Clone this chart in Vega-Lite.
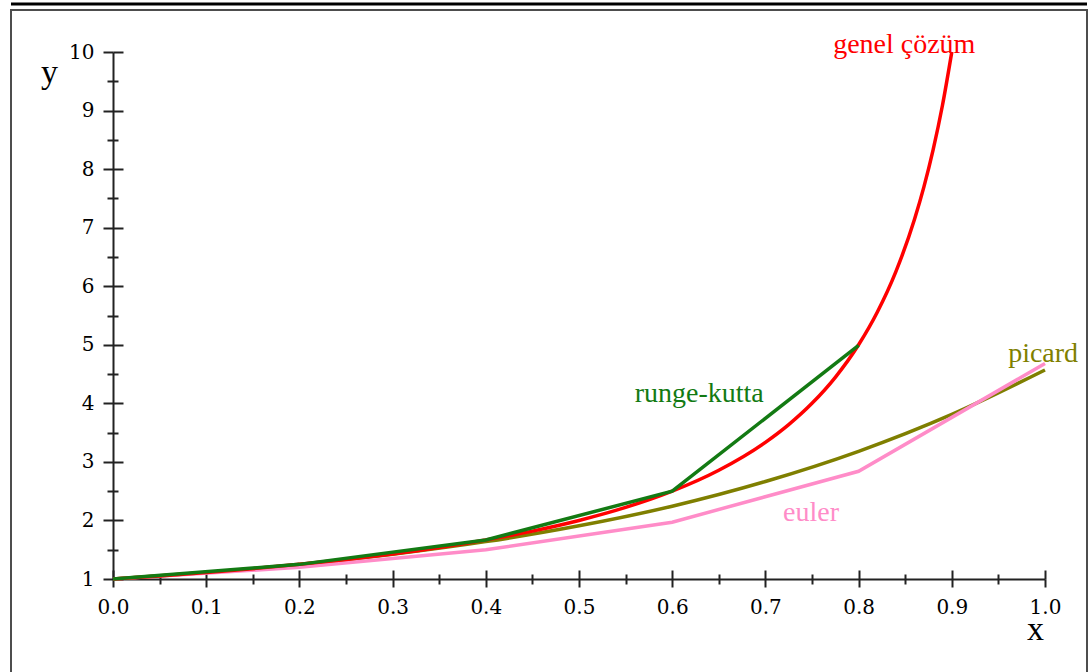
{
  "$schema": "https://vega.github.io/schema/vega-lite/v6.json",
  "width": 1076,
  "height": 670,
  "autosize": {"type": "none"},
  "padding": {"left": 11, "top": 10, "right": 5, "bottom": 0},
  "background": "white",
  "config": {
    "view": {"stroke": "#4d4d4d", "strokeWidth": 2},
    "font": "Liberation Serif",
    "axis": {"grid": false, "tickWidth": 2, "tickColor": "#222", "domainColor": "#222", "domainWidth": 2}
  },
  "resolve": {"axis": {"x": "independent", "y": "independent"}},
  "datasets": {
    "egriler": [
      {"yontem": "genel çözüm", "x": 0, "y": 1},
      {"yontem": "genel çözüm", "x": 0.05, "y": 1.0526},
      {"yontem": "genel çözüm", "x": 0.1, "y": 1.1111},
      {"yontem": "genel çözüm", "x": 0.15, "y": 1.1765},
      {"yontem": "genel çözüm", "x": 0.2, "y": 1.25},
      {"yontem": "genel çözüm", "x": 0.25, "y": 1.3333},
      {"yontem": "genel çözüm", "x": 0.3, "y": 1.4286},
      {"yontem": "genel çözüm", "x": 0.35, "y": 1.5385},
      {"yontem": "genel çözüm", "x": 0.4, "y": 1.6667},
      {"yontem": "genel çözüm", "x": 0.45, "y": 1.8182},
      {"yontem": "genel çözüm", "x": 0.5, "y": 2},
      {"yontem": "genel çözüm", "x": 0.55, "y": 2.2222},
      {"yontem": "genel çözüm", "x": 0.6, "y": 2.5},
      {"yontem": "genel çözüm", "x": 0.65, "y": 2.8571},
      {"yontem": "genel çözüm", "x": 0.7, "y": 3.3333},
      {"yontem": "genel çözüm", "x": 0.725, "y": 3.6364},
      {"yontem": "genel çözüm", "x": 0.75, "y": 4},
      {"yontem": "genel çözüm", "x": 0.775, "y": 4.4444},
      {"yontem": "genel çözüm", "x": 0.8, "y": 5},
      {"yontem": "genel çözüm", "x": 0.82, "y": 5.5556},
      {"yontem": "genel çözüm", "x": 0.84, "y": 6.25},
      {"yontem": "genel çözüm", "x": 0.86, "y": 7.1429},
      {"yontem": "genel çözüm", "x": 0.87, "y": 7.6923},
      {"yontem": "genel çözüm", "x": 0.88, "y": 8.3333},
      {"yontem": "genel çözüm", "x": 0.89, "y": 9.0909},
      {"yontem": "genel çözüm", "x": 0.9, "y": 10},
      {"yontem": "runge-kutta", "x": 0, "y": 1},
      {"yontem": "runge-kutta", "x": 0.2, "y": 1.25},
      {"yontem": "runge-kutta", "x": 0.4, "y": 1.667},
      {"yontem": "runge-kutta", "x": 0.6, "y": 2.5},
      {"yontem": "runge-kutta", "x": 0.8, "y": 4.99},
      {"yontem": "euler", "x": 0, "y": 1},
      {"yontem": "euler", "x": 0.2, "y": 1.2},
      {"yontem": "euler", "x": 0.4, "y": 1.5},
      {"yontem": "euler", "x": 0.6, "y": 1.97},
      {"yontem": "euler", "x": 0.8, "y": 2.84},
      {"yontem": "euler", "x": 1.0, "y": 4.68},
      {"yontem": "picard", "x": 0, "y": 1},
      {"yontem": "picard", "x": 0.1, "y": 1.111},
      {"yontem": "picard", "x": 0.2, "y": 1.249},
      {"yontem": "picard", "x": 0.3, "y": 1.423},
      {"yontem": "picard", "x": 0.4, "y": 1.638},
      {"yontem": "picard", "x": 0.5, "y": 1.908},
      {"yontem": "picard", "x": 0.6, "y": 2.243},
      {"yontem": "picard", "x": 0.7, "y": 2.665},
      {"yontem": "picard", "x": 0.8, "y": 3.18},
      {"yontem": "picard", "x": 0.9, "y": 3.81},
      {"yontem": "picard", "x": 1.0, "y": 4.57}
    ],
    "etiketler": [
      {"yontem": "genel çözüm", "x": 0.849, "y": 9.98},
      {"yontem": "runge-kutta", "x": 0.629, "y": 4.03},
      {"yontem": "picard", "x": 0.998, "y": 4.71},
      {"yontem": "euler", "x": 0.749, "y": 1.99}
    ]
  },
  "layer": [
    {
      "data": {"name": "egriler"},
      "transform": [{"filter": "datum.yontem === 'picard'"}],
      "mark": {"type": "line", "strokeWidth": 3.5, "interpolate": "monotone"},
      "encoding": {
        "x": {
          "field": "x", "type": "quantitative",
          "scale": {"domain": [0, 1], "range": [102, 1034], "nice": false, "zero": false},
          "axis": {
            "orient": "bottom", "offset": -101,
            "values": [0, 0.1, 0.2, 0.3, 0.4, 0.5, 0.6, 0.7, 0.8, 0.9, 1],
            "format": ".1f",
            "labelFont": "DejaVu Serif", "labelFontSize": 20, "labelColor": "#000", "labelPadding": 10,
            "labelFlush": false, "labelOverlap": false,
            "tickSize": 8,
            "title": "x", "titleFont": "Liberation Serif", "titleFontSize": 34, "titleFontWeight": "normal",
            "titleColor": "#000", "titleX": 1024, "titleY": 60, "titleAlign": "center", "titleBaseline": "alphabetic"
          }
        },
        "y": {
          "field": "y", "type": "quantitative",
          "scale": {"domain": [1, 10], "range": [569, 42], "nice": false, "zero": false},
          "axis": {
            "orient": "left", "offset": -102,
            "values": [1, 2, 3, 4, 5, 6, 7, 8, 9, 10],
            "format": "d",
            "labelFont": "DejaVu Serif", "labelFontSize": 20, "labelColor": "#000", "labelPadding": 9,
            "labelFlush": false, "labelOverlap": false,
            "tickSize": 10,
            "title": "y", "titleFont": "Liberation Serif", "titleFontSize": 34, "titleFontWeight": "normal",
            "titleColor": "#000", "titleAngle": 0, "titleX": -64, "titleY": 72, "titleAlign": "center", "titleBaseline": "alphabetic"
          }
        },
        "color": {
          "field": "yontem", "type": "nominal",
          "scale": {"domain": ["genel çözüm", "runge-kutta", "picard", "euler"], "range": ["#ff0000", "#137a13", "#7f7f00", "#ff8cc8"]},
          "legend": null
        }
      }
    },
    {
      "data": {"name": "egriler"},
      "transform": [{"filter": "datum.yontem === 'euler'"}],
      "mark": {"type": "line", "strokeWidth": 3.5},
      "encoding": {
        "x": {"field": "x", "type": "quantitative",
          "axis": {"orient": "bottom", "offset": -101, "values": [0.05, 0.15, 0.25, 0.35, 0.45, 0.55, 0.65, 0.75, 0.85, 0.95],
            "labels": false, "domain": false, "tickSize": 5, "title": null}},
        "y": {"field": "y", "type": "quantitative",
          "axis": {"orient": "left", "offset": -102, "values": [1.5, 2.5, 3.5, 4.5, 5.5, 6.5, 7.5, 8.5, 9.5],
            "labels": false, "domain": false, "tickSize": 6, "title": null}},
        "color": {"field": "yontem", "type": "nominal", "legend": null}
      }
    },
    {
      "data": {"name": "egriler"},
      "transform": [{"filter": "datum.yontem === 'genel çözüm'"}],
      "mark": {"type": "line", "strokeWidth": 3.5, "interpolate": "monotone"},
      "encoding": {
        "x": {"field": "x", "type": "quantitative",
          "axis": {"orient": "bottom", "offset": -101, "values": [0, 0.1, 0.2, 0.3, 0.4, 0.5, 0.6, 0.7, 0.8, 0.9, 1],
            "labels": false, "domain": false, "tickSize": -9, "title": null}},
        "y": {"field": "y", "type": "quantitative",
          "axis": {"orient": "left", "offset": -102, "values": [1, 2, 3, 4, 5, 6, 7, 8, 9, 10],
            "labels": false, "domain": false, "tickSize": -10, "title": null}},
        "color": {"field": "yontem", "type": "nominal", "legend": null}
      }
    },
    {
      "data": {"name": "egriler"},
      "transform": [{"filter": "datum.yontem === 'runge-kutta'"}],
      "mark": {"type": "line", "strokeWidth": 3.5},
      "encoding": {
        "x": {"field": "x", "type": "quantitative",
          "axis": {"orient": "bottom", "offset": -101, "values": [0.05, 0.15, 0.25, 0.35, 0.45, 0.55, 0.65, 0.75, 0.85, 0.95],
            "labels": false, "domain": false, "tickSize": -5, "title": null}},
        "y": {"field": "y", "type": "quantitative",
          "axis": {"orient": "left", "offset": -102, "values": [1.5, 2.5, 3.5, 4.5, 5.5, 6.5, 7.5, 8.5, 9.5],
            "labels": false, "domain": false, "tickSize": -5, "title": null}},
        "color": {"field": "yontem", "type": "nominal", "legend": null}
      }
    },
    {
      "data": {"name": "etiketler"},
      "mark": {"type": "text", "font": "Liberation Serif", "fontSize": 28, "align": "center", "baseline": "alphabetic"},
      "encoding": {
        "x": {"field": "x", "type": "quantitative", "axis": null},
        "y": {"field": "y", "type": "quantitative", "axis": null},
        "text": {"field": "yontem"},
        "color": {"field": "yontem", "type": "nominal", "legend": null}
      }
    },
    {
      "data": {"values": [{}]},
      "mark": {"type": "rule", "color": "#000", "strokeWidth": 3},
      "encoding": {"y": {"datum": 10.82, "axis": null}}
    }
  ]
}
